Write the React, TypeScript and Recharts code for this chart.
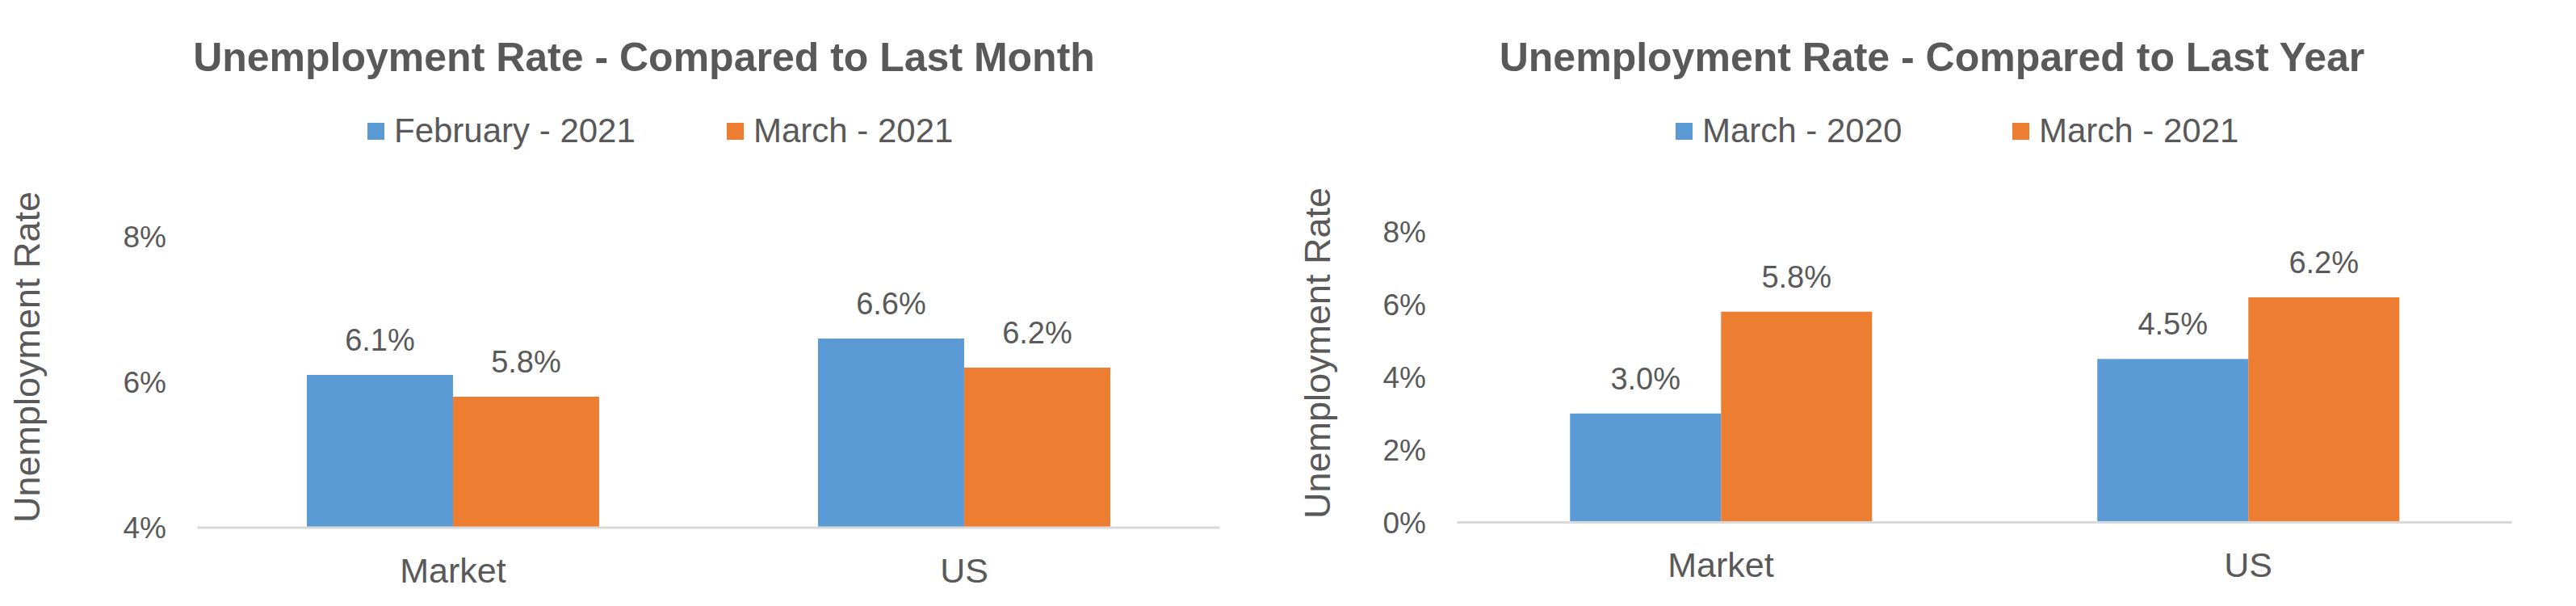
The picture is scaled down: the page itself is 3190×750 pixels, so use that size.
import React from 'react';
import { BarChart, Bar, XAxis, YAxis, LabelList } from 'recharts';

const categories = ['Market', 'US'];

// Compared to last month
const monthTitle = 'Unemployment Rate - Compared to Last Month';
const monthSeriesNames = ['February - 2021', 'March - 2021'];
const monthPrev = [6.1, 6.6];
const monthCurr = [5.8, 6.2];
const monthTicks = [4, 6, 8];

// Compared to last year
const yearTitle = 'Unemployment Rate - Compared to Last Year';
const yearSeriesNames = ['March - 2020', 'March - 2021'];
const yearPrev = [3.0, 4.5];
const yearCurr = [5.8, 6.2];
const yearTicks = [0, 2, 4, 6, 8];

const BLUE = '#5B9BD5';
const ORANGE = '#ED7D31';
const TEXT = '#595959';
const FONT = '"Liberation Sans", Arial, sans-serif';

const PANEL_W = 1595;
const PANEL_H = 750;

interface PanelProps {
  left: number;
  title: string;
  names: string[];
  prev: number[];
  curr: number[];
  ticks: number[];
  plot: { left: number; right: number; top: number; bottom: number };
  legendX: number[];
  axisTitle: { x: number; y: number };
}

function Panel({ left, title, names, prev, curr, ticks, plot, legendX, axisTitle }: PanelProps) {
  const data = categories.map((c, i) => ({ name: c, prev: prev[i], curr: curr[i] }));

  // rotated y axis title, drawn at fixed spot inside the panel
  const AxisTitle = () => (
    <text
      x={axisTitle.x}
      y={axisTitle.y}
      transform={`rotate(-90 ${axisTitle.x} ${axisTitle.y})`}
      textAnchor="middle"
      dominantBaseline="central"
      fill={TEXT}
      fontSize={45}
      fontFamily={FONT}
    >
      Unemployment Rate
    </text>
  );

  return (
    <div style={{ position: 'absolute', left, top: 0, width: PANEL_W, height: PANEL_H }}>
      <div
        style={{
          position: 'absolute',
          left: 0,
          top: 46,
          width: PANEL_W,
          textAlign: 'center',
          fontFamily: FONT,
          fontWeight: 'bold',
          fontSize: 50,
          lineHeight: '50px',
          color: TEXT,
          whiteSpace: 'nowrap',
        }}
      >
        {title}
      </div>

      {names.map((n, i) => (
        <div
          key={n}
          style={{
            position: 'absolute',
            left: legendX[i],
            top: 141,
            height: 42,
            display: 'flex',
            alignItems: 'center',
            fontFamily: FONT,
            fontSize: 42,
            lineHeight: '42px',
            color: TEXT,
            whiteSpace: 'nowrap',
          }}
        >
          <span
            style={{
              display: 'inline-block',
              width: 21,
              height: 21,
              background: i === 0 ? BLUE : ORANGE,
              marginRight: 12,
            }}
          />
          {n}
        </div>
      ))}

      <div style={{ position: 'absolute', left: 0, top: 0 }}>
        <BarChart
          width={PANEL_W}
          height={PANEL_H}
          data={data}
          barCategoryGap="21.4%"
          barGap={0}
          margin={{
            top: plot.top,
            right: PANEL_W - plot.right,
            bottom: PANEL_H - plot.bottom - 60,
            left: 0,
          }}
        >
          <XAxis
            dataKey="name"
            height={60}
            axisLine={{ stroke: '#D9D9D9', strokeWidth: 3 }}
            tickLine={false}
            tickSize={0}
            tickMargin={37}
            tick={{ fill: TEXT, fontSize: 43, fontFamily: FONT }}
          />
          <YAxis
            width={plot.left}
            domain={[ticks[0], ticks[ticks.length - 1]]}
            ticks={ticks}
            axisLine={false}
            tickLine={false}
            tickSize={0}
            tickMargin={38.5}
            tickFormatter={(v: number) => `${v}%`}
            tick={{ fill: TEXT, fontSize: 37, fontFamily: FONT }}
            label={<AxisTitle />}
          />
          <Bar dataKey="prev" fill={BLUE} isAnimationActive={false}>
            <LabelList
              dataKey="prev"
              position="top"
              offset={30}
              formatter={(v: number) => `${v.toFixed(1)}%`}
              style={{ fill: TEXT, fontSize: 38, fontFamily: FONT }}
            />
          </Bar>
          <Bar dataKey="curr" fill={ORANGE} isAnimationActive={false}>
            <LabelList
              dataKey="curr"
              position="top"
              offset={30}
              formatter={(v: number) => `${v.toFixed(1)}%`}
              style={{ fill: TEXT, fontSize: 38, fontFamily: FONT }}
            />
          </Bar>
        </BarChart>
      </div>
    </div>
  );
}

export default function App() {
  return (
    <div
      style={{
        position: 'absolute',
        left: 0,
        top: 0,
        width: 3190,
        height: 750,
        background: '#fff',
        overflow: 'hidden',
      }}
    >
      <Panel
        left={0}
        title={monthTitle}
        names={monthSeriesNames}
        prev={monthPrev}
        curr={monthCurr}
        ticks={monthTicks}
        plot={{ left: 244.5, right: 1510.5, top: 293, bottom: 653 }}
        legendX={[455, 900]}
        axisTitle={{ x: 33, y: 442 }}
      />
      <Panel
        left={1595}
        title={yearTitle}
        names={yearSeriesNames}
        prev={yearPrev}
        curr={yearCurr}
        ticks={yearTicks}
        plot={{ left: 209.5, right: 1515.5, top: 287, bottom: 646.5 }}
        legendX={[480, 897]}
        axisTitle={{ x: 36, y: 437 }}
      />
    </div>
  );
}
